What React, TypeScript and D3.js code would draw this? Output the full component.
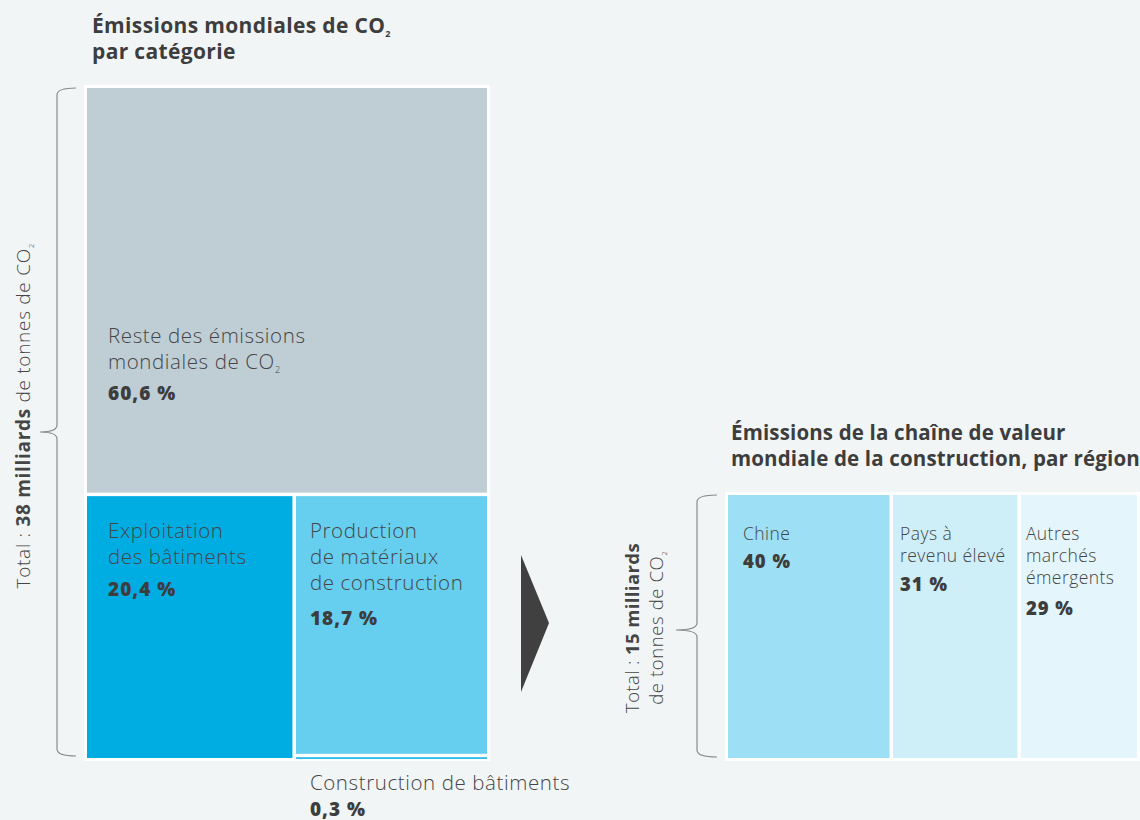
import React from "react";
import * as d3 from "d3";

// ---------- data ----------
const leftTitle = ["Émissions mondiales de CO", "par catégorie"];
const leftCategories = [
  ["Reste des émissions", "mondiales de CO"],
  ["Exploitation", "des bâtiments"],
  ["Production", "de matériaux", "de construction"],
  ["Construction de bâtiments"],
];
const leftValues = [60.6, 20.4, 18.7, 0.3];
const leftLabels = ["60,6 %", "20,4 %", "18,7 %", "0,3 %"];
const leftColors = ["#bfcdd5", "#00ade3", "#66cfef", "#00ade3"];

const rightTitle = ["Émissions de la chaîne de valeur", "mondiale de la construction, par région"];
const rightCategories = [["Chine"], ["Pays à", "revenu élevé"], ["Autres", "marchés", "émergents"]];
const rightValues = [40, 31, 29];
const rightLabels = ["40 %", "31 %", "29 %"];
const rightColors = ["#9ddff4", "#ceeef8", "#e4f5fb"];

const leftTotal = { pre: "Total : ", bold: "38 milliards", post: " de tonnes de  CO" };
const rightTotal = { pre: "Total : ", bold: "15 milliards", line2: "de tonnes de CO" };

const FONT = "'Open Sans', 'Noto Sans', sans-serif";
const TEXT = "#3d3d3d";
const LABEL = "#454545";
const BG = "#f2f5f6";

function Sub2({ size }: { size: number }) {
  return (
    <tspan fontSize={size} dy={size * 0.45} letterSpacing={0}>
      2
    </tspan>
  );
}

export default function App() {
  // left treemap
  const L = { x: 87, y: 88, w: 400, h: 670 };
  const leftData = {
    children: [
      { i: 0, value: leftValues[0] },
      {
        children: [
          { i: 1, value: leftValues[1] },
          { children: [{ i: 2, value: leftValues[2] }, { i: 3, value: leftValues[3] }] },
        ],
      },
    ],
  };
  const lroot = d3.hierarchy<any>(leftData).sum((d: any) => d.value || 0);
  d3
    .treemap<any>()
    .size([L.w, L.h])
    .paddingInner(3.5)
    .tile((node: any, x0: number, y0: number, x1: number, y1: number) =>
      node.depth % 2 === 0
        ? d3.treemapSlice(node, x0, y0, x1, y1)
        : d3.treemapDice(node, x0, y0, x1, y1)
    )(lroot);
  const lleaves = lroot.leaves().sort((a: any, b: any) => a.data.i - b.data.i) as any[];

  // right treemap
  const R = { x: 728, y: 495, w: 409, h: 263 };
  const rroot = d3
    .hierarchy<any>({ children: rightValues.map((v, i) => ({ i, value: v })) })
    .sum((d: any) => d.value || 0);
  d3.treemap<any>().size([R.w, R.h]).paddingInner(3.5).tile(d3.treemapDice)(rroot);
  const rleaves = rroot.leaves() as any[];

  const leftLabelPos = [
    { dx: 21, lineY: [343, 369], valY: 400 },
    { dx: 21, lineY: [538, 564], valY: 596 },
    { dx: 14, lineY: [538, 564, 590], valY: 625 },
    { dx: 14, lineY: [790], valY: 816 },
  ];
  const rightLabelPos = [
    { dx: 15, lineY: [540], valY: 568 },
    { dx: 7, lineY: [540, 562], valY: 591 },
    { dx: 5, lineY: [540, 562, 584], valY: 615 },
  ];

  const brace = (xTip: number, xLine: number, xEnd: number, y0: number, y1: number, ym: number) => {
    const r = 7;
    return `M${xEnd},${y0} Q${xLine},${y0} ${xLine},${y0 + r} L${xLine},${ym - r} Q${xLine},${ym} ${xTip},${ym} Q${xLine},${ym} ${xLine},${ym + r} L${xLine},${y1 - r} Q${xLine},${y1} ${xEnd},${y1}`;
  };

  return (
    <svg
      width={1140}
      height={820}
      style={{ position: "absolute", left: 0, top: 0, background: BG, fontFamily: FONT }}
    >
      <rect x={0} y={0} width={1140} height={820} fill={BG} />

      {/* left title */}
      <text x={92} y={33} fontSize={21} letterSpacing={0.35} fontWeight={700} fill={TEXT}>
        {leftTitle[0]}
        <Sub2 size={9} />
      </text>
      <text x={92} y={59} fontSize={21} letterSpacing={0.35} fontWeight={700} fill={TEXT}>
        {leftTitle[1]}
      </text>

      {/* left treemap */}
      <rect x={L.x - 3} y={L.y - 3} width={L.w + 6} height={L.h + 6} fill="#ffffff" />
      {lleaves.map((n, k) => (
        <rect
          key={k}
          x={L.x + n.x0}
          y={L.y + n.y0}
          width={Math.max(0, n.x1 - n.x0)}
          height={Math.max(1.5, n.y1 - n.y0)}
          fill={leftColors[n.data.i]}
        />
      ))}
      {lleaves.map((n, k) => {
        const i = n.data.i;
        const p = leftLabelPos[i];
        const x = L.x + n.x0 + p.dx;
        return (
          <g key={"l" + k} fill={LABEL}>
            {leftCategories[i].map((line, j) => (
              <text key={j} x={x} y={p.lineY[j]} fontSize={20.5} letterSpacing={0.6} fontWeight={300}>
                {line}
                {line.endsWith("CO") ? <Sub2 size={9} /> : null}
              </text>
            ))}
            <text x={x} y={p.valY} fontSize={19} letterSpacing={1} fontWeight={800} fill={TEXT}>
              {leftLabels[i]}
            </text>
          </g>
        );
      })}

      {/* left brace + total */}
      <path d={brace(40, 57, 76, 88, 756, 432)} fill="none" stroke="#8a8a8a" strokeWidth={1.2} />
      <text
        transform="translate(30,416) rotate(-90)"
        textAnchor="middle"
        fontSize={19}
        letterSpacing={0.7}
        fontWeight={300}
        fill={LABEL}
      >
        {leftTotal.pre}
        <tspan fontWeight={700}>{leftTotal.bold}</tspan>
        {leftTotal.post}
        <Sub2 size={8} />
      </text>

      {/* arrow */}
      <path d="M521,555 L549,623 L521,692 Z" fill="#404040" />

      {/* right title */}
      <text x={731} y={440} fontSize={20.5} letterSpacing={0.15} fontWeight={700} fill={TEXT}>
        {rightTitle[0]}
      </text>
      <text x={731} y={466} fontSize={20.5} letterSpacing={0.15} fontWeight={700} fill={TEXT}>
        {rightTitle[1]}
      </text>

      {/* right chart */}
      <rect x={R.x - 3} y={R.y - 3} width={R.w + 6} height={R.h + 6} fill="#ffffff" />
      {rleaves.map((n, k) => (
        <rect
          key={k}
          x={R.x + n.x0}
          y={R.y + n.y0}
          width={n.x1 - n.x0}
          height={n.y1 - n.y0}
          fill={rightColors[n.data.i]}
        />
      ))}
      {rleaves.map((n, k) => {
        const i = n.data.i;
        const p = rightLabelPos[i];
        const x = R.x + n.x0 + p.dx;
        return (
          <g key={"r" + k} fill={LABEL}>
            {rightCategories[i].map((line, j) => (
              <text key={j} x={x} y={p.lineY[j]} fontSize={17.5} letterSpacing={0.45} fontWeight={300}>
                {line}
              </text>
            ))}
            <text x={x} y={p.valY} fontSize={18.5} letterSpacing={1} fontWeight={800} fill={TEXT}>
              {rightLabels[i]}
            </text>
          </g>
        );
      })}

      {/* right brace + total */}
      <path d={brace(676, 697, 717, 495, 757, 630)} fill="none" stroke="#8a8a8a" strokeWidth={1.2} />
      <text
        transform="translate(639,628) rotate(-90)"
        textAnchor="middle"
        fontSize={18.5}
        letterSpacing={0.4}
        fontWeight={300}
        fill={LABEL}
      >
        {rightTotal.pre}
        <tspan fontWeight={700}>{rightTotal.bold}</tspan>
      </text>
      <text
        transform="translate(663,628) rotate(-90)"
        textAnchor="middle"
        fontSize={18.5}
        letterSpacing={0.6}
        fontWeight={300}
        fill={LABEL}
      >
        {rightTotal.line2}
        <Sub2 size={8} />
      </text>
    </svg>
  );
}
